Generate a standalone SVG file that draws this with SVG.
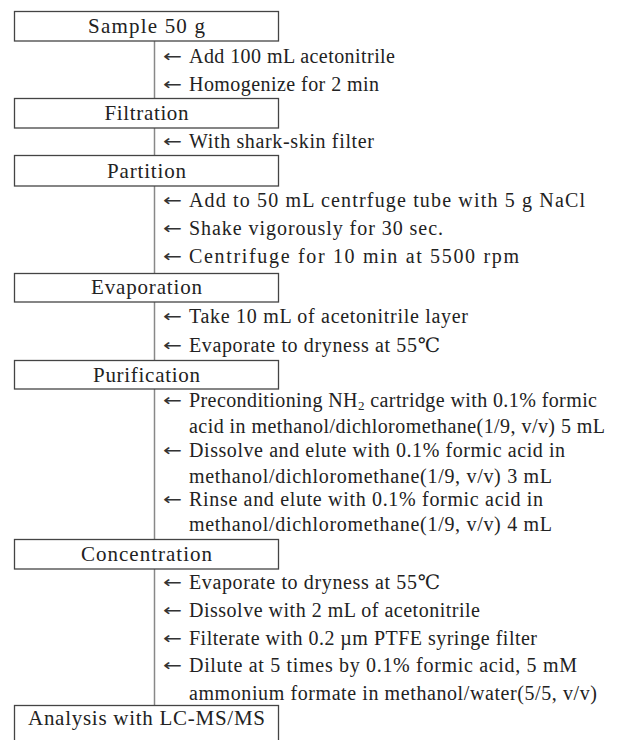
<svg xmlns="http://www.w3.org/2000/svg" width="632" height="740" viewBox="0 0 632 740">
<style>
.box{fill:#fff;stroke:#444;stroke-width:1.3}
.lbl{font-family:"Liberation Serif","DejaVu Serif",serif;font-size:21px;fill:#222;text-anchor:middle}
.st{font-family:"Liberation Serif","DejaVu Serif","Noto Sans CJK KR",serif;font-size:20px;fill:#222}
.ar{font-family:"DejaVu Sans",sans-serif;font-size:17px;fill:#333}
.con{stroke:#888;stroke-width:1.5;fill:none}
</style>
<rect width="632" height="740" fill="#fff"/>
<g id="connectors">
<line class="con" x1="154.5" y1="41" x2="154.5" y2="98"/>
<line class="con" x1="154.5" y1="128" x2="154.5" y2="155"/>
<line class="con" x1="154.5" y1="186" x2="154.5" y2="273"/>
<line class="con" x1="154.5" y1="302" x2="154.5" y2="360"/>
<line class="con" x1="154.5" y1="389" x2="154.5" y2="539"/>
<line class="con" x1="154.5" y1="569" x2="154.5" y2="705"/>
</g>
<g id="sample"><rect class="box" x="14.5" y="11.5" width="264" height="29.5"/><text class="lbl" x="146.5" y="33" textLength="117">Sample 50 g</text></g>
<g id="filtration"><rect class="box" x="14.5" y="98.5" width="264" height="29.5"/><text class="lbl" x="146.5" y="120" textLength="84">Filtration</text></g>
<g id="partition"><rect class="box" x="14.5" y="155.5" width="264" height="30.5"/><text class="lbl" x="146.5" y="178" textLength="79">Partition</text></g>
<g id="evaporation"><rect class="box" x="14.5" y="273.5" width="264" height="28.5"/><text class="lbl" x="146.5" y="294" textLength="111">Evaporation</text></g>
<g id="purification"><rect class="box" x="14.5" y="360.5" width="264" height="28.5"/><text class="lbl" x="146.5" y="382" textLength="107">Purification</text></g>
<g id="concentration"><rect class="box" x="14.5" y="539.5" width="264" height="29.5"/><text class="lbl" x="146.5" y="561" textLength="131">Concentration</text></g>
<g id="analysis"><rect class="box" x="14.5" y="705.5" width="264" height="40"/><text class="lbl" x="146.5" y="725" textLength="237">Analysis with LC-MS/MS</text></g>
<g id="steps">
<text class="ar" x="163" y="62" textLength="19" lengthAdjust="spacingAndGlyphs">←</text><text class="st" x="189" y="63" textLength="206">Add 100 mL acetonitrile</text>
<text class="ar" x="163" y="90" textLength="19" lengthAdjust="spacingAndGlyphs">←</text><text class="st" x="189" y="91" textLength="190">Homogenize for 2 min</text>
<text class="ar" x="163" y="147" textLength="19" lengthAdjust="spacingAndGlyphs">←</text><text class="st" x="189" y="148" textLength="185">With shark-skin filter</text>
<text class="ar" x="163" y="206" textLength="19" lengthAdjust="spacingAndGlyphs">←</text><text class="st" x="189" y="207" textLength="396">Add to 50 mL centrfuge tube with 5 g NaCl</text>
<text class="ar" x="163" y="234" textLength="19" lengthAdjust="spacingAndGlyphs">←</text><text class="st" x="189" y="235" textLength="254">Shake vigorously for 30 sec.</text>
<text class="ar" x="163" y="262" textLength="19" lengthAdjust="spacingAndGlyphs">←</text><text class="st" x="189" y="263" textLength="330">Centrifuge for 10 min at 5500 rpm</text>
<text class="ar" x="163" y="322" textLength="19" lengthAdjust="spacingAndGlyphs">←</text><text class="st" x="189" y="323" textLength="279">Take 10 mL of acetonitrile layer</text>
<text class="ar" x="163" y="351" textLength="19" lengthAdjust="spacingAndGlyphs">←</text><text class="st" x="189" y="352" textLength="251">Evaporate to dryness at 55℃</text>
<text class="ar" x="163" y="406" textLength="19" lengthAdjust="spacingAndGlyphs">←</text><text class="st" x="189" y="407" textLength="408">Preconditioning NH<tspan font-size="13" dy="3">2</tspan><tspan dy="-3"> cartridge with 0.1% formic</tspan></text>
<text class="st" x="189" y="433" textLength="416">acid in methanol/dichloromethane(1/9, v/v) 5 mL</text>
<text class="ar" x="163" y="456" textLength="19" lengthAdjust="spacingAndGlyphs">←</text><text class="st" x="189" y="457" textLength="376">Dissolve and elute with 0.1% formic acid in</text>
<text class="st" x="189" y="483" textLength="363">methanol/dichloromethane(1/9, v/v) 3 mL</text>
<text class="ar" x="163" y="505" textLength="19" lengthAdjust="spacingAndGlyphs">←</text><text class="st" x="189" y="506" textLength="354">Rinse and elute with 0.1% formic acid in</text>
<text class="st" x="189" y="531" textLength="363">methanol/dichloromethane(1/9, v/v) 4 mL</text>
<text class="ar" x="163" y="588" textLength="19" lengthAdjust="spacingAndGlyphs">←</text><text class="st" x="189" y="589" textLength="251">Evaporate to dryness at 55℃</text>
<text class="ar" x="163" y="616" textLength="19" lengthAdjust="spacingAndGlyphs">←</text><text class="st" x="189" y="617" textLength="291">Dissolve with 2 mL of acetonitrile</text>
<text class="ar" x="163" y="644" textLength="19" lengthAdjust="spacingAndGlyphs">←</text><text class="st" x="189" y="645" textLength="348">Filterate with 0.2 µm PTFE syringe filter</text>
<text class="ar" x="163" y="671" textLength="19" lengthAdjust="spacingAndGlyphs">←</text><text class="st" x="189" y="672" textLength="388">Dilute at 5 times by 0.1% formic acid, 5 mM</text>
<text class="st" x="189" y="700" textLength="408">ammonium formate in methanol/water(5/5, v/v)</text>
</g>
</svg>
